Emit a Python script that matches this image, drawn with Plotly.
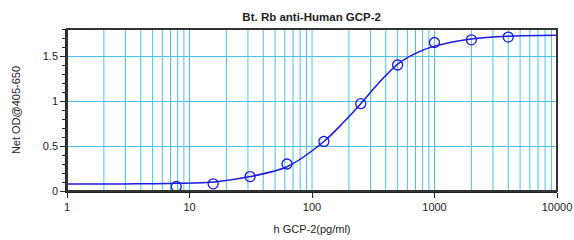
import plotly.graph_objects as go

# Standard points (concentration pg/ml, Net OD)
conc = [7.8, 15.6, 31.25, 62.5, 125, 250, 500, 1000, 2000, 4000]
od = [0.05, 0.08, 0.16, 0.30, 0.55, 0.97, 1.40, 1.65, 1.68, 1.71]

# Fitted curve
curve_x = [1, 3, 5, 8, 16, 31.25, 62.5, 125, 180, 250, 350, 500, 700, 1000, 2000, 4000, 10000]
curve_y = [0.078, 0.079, 0.081, 0.085, 0.10, 0.16, 0.27, 0.55, 0.76, 0.97, 1.20, 1.41, 1.53, 1.61, 1.69, 1.72, 1.73]

x_ticks = [1, 10, 100, 1000, 10000]
x_ticktext = ["1", "10", "100", "1000", "10000"]
y_ticks = [0, 0.5, 1, 1.5]
y_ticktext = ["0", "0.5", "1", "1.5"]

grid_x = [m * 10 ** d for d in range(4) for m in range(1, 10)] + [10000]

fig = go.Figure()
fig.add_trace(go.Scatter(x=curve_x, y=curve_y, mode="lines",
                         line=dict(color="#1a1ae0", width=1.5, shape="spline", smoothing=0.8),
                         hoverinfo="skip", showlegend=False))
fig.add_trace(go.Scatter(x=conc, y=od, mode="markers",
                         marker=dict(symbol="circle-open", size=10, color="#1a1ae0",
                                     line=dict(width=1.3, color="#1a1ae0")),
                         showlegend=False))

font = "Liberation Sans, Arial, sans-serif"
fig.update_layout(
    width=574, height=240,
    margin=dict(l=67, r=17, t=29, b=49, autoexpand=False),
    paper_bgcolor="white", plot_bgcolor="white",
    font=dict(family=font, size=11, color="#222"),
    title=dict(text="<b>Bt. Rb anti-Human GCP-2</b>", x=0.543, xanchor="center",
               y=0.928, yanchor="middle", font=dict(size=11.5, color="#222")),
    showlegend=False,
    shapes=[dict(type="rect", xref="paper", yref="paper", x0=0, y0=0, x1=1, y1=1,
                 line=dict(color="#333", width=2), fillcolor="rgba(0,0,0,0)", layer="above")]
    + [dict(type="line", xref="x", yref="paper", x0=g, x1=g, y0=0, y1=1,
            line=dict(color="#48c0ef", width=1), layer="below") for g in grid_x],
)
fig.update_xaxes(type="log", range=[0, 4], tickvals=x_ticks, ticktext=x_ticktext,
                 showgrid=False, zeroline=False, automargin=False,
                 ticklabeloverflow="allow",
                 ticks="outside", ticklen=5, tickcolor="#222", showline=True,
                 linecolor="#222", linewidth=1.5,
                 title=dict(text="h GCP-2(pg/ml)", font=dict(size=11), standoff=13),
                 tickfont=dict(size=11))
fig.update_yaxes(range=[0, 1.8], tickvals=y_ticks, ticktext=y_ticktext,
                 showgrid=True, gridcolor="#48c0ef", gridwidth=1, zeroline=False,
                 automargin=False,
                 ticks="outside", ticklen=5, tickcolor="#222", showline=True,
                 linecolor="#222", linewidth=1.5,
                 minor=dict(dtick=0.1, tick0=0, ticks="outside", ticklen=3, tickcolor="#222", showgrid=False),
                 title=dict(text="Net OD@405-650", font=dict(size=11), standoff=20),
                 tickfont=dict(size=11))

fig.write_html("out.html",
               config={"displayModeBar": False},
               post_script="document.body.style.margin='0px';document.body.style.overflow='hidden';")
